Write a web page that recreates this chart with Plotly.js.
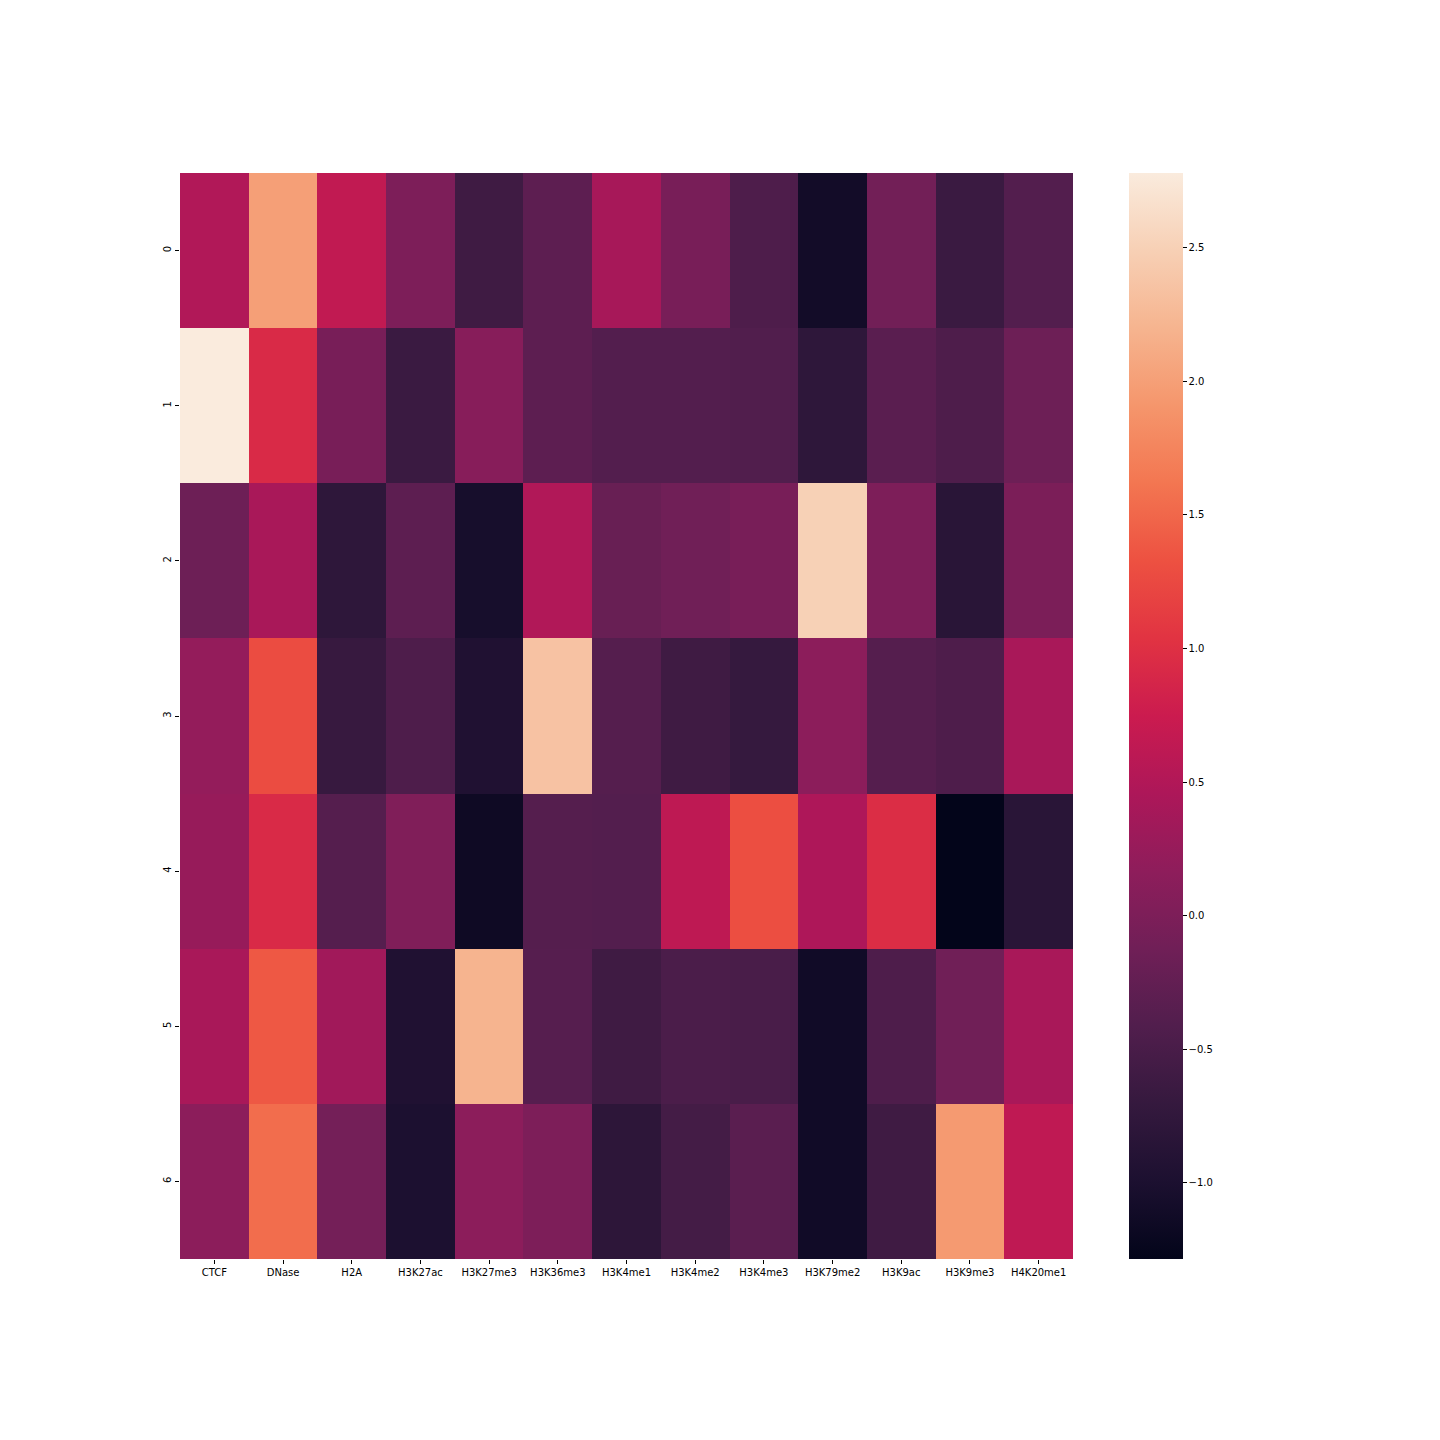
<!DOCTYPE html>
<html>
<head>
<meta charset="utf-8">
<script src="https://cdn.plot.ly/plotly-3.0.1.min.js"></script>
<style>html,body{margin:0;padding:0;background:#fff;}#chart{width:1440px;height:1440px;}</style>
</head>
<body>
<div id="chart"></div>
<script>
const marks = ["CTCF","DNase","H2A","H3K27ac","H3K27me3","H3K36me3","H3K4me1","H3K4me2","H3K4me3","H3K79me2","H3K9ac","H3K9me3","H4K20me1"];
const rows = ["0","1","2","3","4","5","6"];
const row0 = [0.50, 2.00, 0.65, 0.00, -0.60, -0.30, 0.40, -0.05, -0.45, -1.10, -0.10, -0.65, -0.40];
const row1 = [2.78, 0.93, -0.05, -0.65, 0.10, -0.30, -0.40, -0.40, -0.42, -0.78, -0.33, -0.45, -0.15];
const row2 = [-0.15, 0.42, -0.78, -0.30, -1.05, 0.50, -0.20, -0.12, -0.05, 2.50, 0.00, -0.85, -0.02];
const row3 = [0.22, 1.28, -0.68, -0.45, -0.95, 2.35, -0.38, -0.60, -0.70, 0.15, -0.38, -0.45, 0.42];
const row4 = [0.25, 0.93, -0.38, 0.03, -1.15, -0.38, -0.40, 0.62, 1.30, 0.47, 0.96, -1.285, -0.85];
const row5 = [0.42, 1.38, 0.35, -0.95, 2.20, -0.37, -0.60, -0.48, -0.50, -1.12, -0.45, -0.12, 0.42];
const row6 = [0.15, 1.55, -0.08, -1.00, 0.15, 0.00, -0.80, -0.55, -0.33, -1.12, -0.60, 1.95, 0.63];
const colorbarTicks = [-1.0, -0.5, 0.0, 0.5, 1.0, 1.5, 2.0, 2.5];
const colorbarLabels = ["\u22121.0", "\u22120.5", "0.0", "0.5", "1.0", "1.5", "2.0", "2.5"];

const rocket = [
  [0.0, "#03051A"],
  [0.071, "#1C1030"],
  [0.143, "#35193E"],
  [0.214, "#511E4D"],
  [0.286, "#701F57"],
  [0.357, "#8E1D5B"],
  [0.429, "#AD1759"],
  [0.5, "#CB1B4F"],
  [0.571, "#E13342"],
  [0.643, "#ED5141"],
  [0.714, "#F37651"],
  [0.786, "#F5966C"],
  [0.857, "#F6B48F"],
  [0.929, "#F7D0B5"],
  [1.0, "#FAEBDD"]
];

const trace = {
  type: "heatmap",
  x: marks,
  y: rows,
  z: [row0, row1, row2, row3, row4, row5, row6],
  colorscale: rocket,
  xgap: 0, ygap: 0,
  colorbar: {
    x: (1129 - 180) / 893, xanchor: "left", xref: "paper",
    y: 0.5, yanchor: "middle", len: 1, lenmode: "fraction",
    thickness: 54, thicknessmode: "pixels",
    outlinewidth: 0,
    ticks: "outside", ticklen: 4, tickwidth: 1, tickcolor: "#000",
    tickvals: colorbarTicks, ticktext: colorbarLabels,
    tickfont: {family: "DejaVu Sans", size: 10, color: "#000"},
    xpad: 0, ypad: 0
  }
};

const layout = {
  width: 1440, height: 1440,
  margin: {l: 180, r: 367, t: 173, b: 181, pad: 0},
  paper_bgcolor: "#fff", plot_bgcolor: "#fff",
  font: {family: "DejaVu Sans", size: 10, color: "#000"},
  xaxis: {
    type: "category", showgrid: false, zeroline: false, showline: false,
    ticks: "outside", ticklen: 4, tickcolor: "#000", tickangle: 0,
    tickfont: {family: "DejaVu Sans", size: 10, color: "#000"}
  },
  yaxis: {
    type: "category", autorange: "reversed", showgrid: false, zeroline: false, showline: false,
    ticks: "outside", ticklen: 4, tickcolor: "#000", tickangle: -90,
    tickfont: {family: "DejaVu Sans", size: 10, color: "#000"}
  }
};

Plotly.newPlot("chart", [trace], layout, {displayModeBar: false, staticPlot: true});
</script>
</body>
</html>
